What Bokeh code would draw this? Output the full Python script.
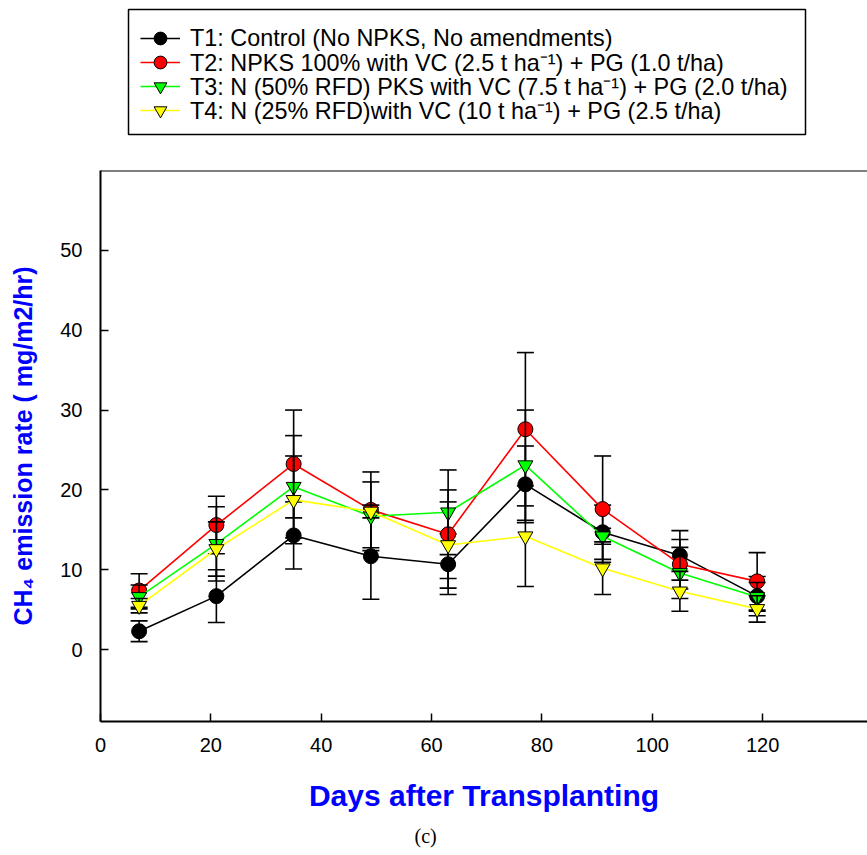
from bokeh.plotting import figure
from bokeh.layouts import column
from bokeh.models import (ColumnDataSource, Legend, LegendItem, FixedTicker,
                          Range1d, Span, Title, BoxAnnotation)
from bokeh.embed import file_html
from bokeh.resources import INLINE

# ---- data ----
days = [7, 21, 35, 49, 63, 77, 91, 105, 119]

t1 = [2.3, 6.7, 14.3, 11.7, 10.7, 20.7, 14.7, 11.8, 6.7]
t1_err = [1.3, 3.3, 4.2, 5.4, 3.8, 4.8, 3.4, 3.1, 2.45]

t2 = [7.4, 15.6, 23.25, 17.5, 14.45, 27.6, 17.6, 10.7, 8.55]
t2_err = [2.1, 3.6, 6.75, 4.75, 5.55, 9.6, 6.65, 3.1, 3.6]

t3 = [6.6, 13.25, 20.4, 16.7, 17.2, 23.1, 14.2, 9.6, 6.6]
t3_err = [1.5, 4.65, 6.4, 4.3, 5.3, 6.9, 1.0, 3.2, 1.8]

t4 = [5.5, 12.6, 18.75, 17.3, 13.1, 14.2, 10.2, 7.3, 5.1]
t4_err = [0.9, 3.4, 5.5, 0.8, 5.4, 6.3, 3.3, 2.5, 1.65]

labels = [
    "T1: Control (No NPKS, No amendments)",
    "T2: NPKS 100% with VC (2.5 t ha\u207b\u00b9) + PG (1.0 t/ha)",
    "T3: N (50% RFD) PKS with VC (7.5 t ha\u207b\u00b9) + PG (2.0 t/ha)",
    "T4: N (25% RFD)with VC (10 t ha\u207b\u00b9) + PG (2.5 t/ha)",
]
x_ticks = [0, 20, 40, 60, 80, 100, 120]
y_ticks = [0, 10, 20, 30, 40, 50]

series = [
    (t1, t1_err, "black", "black", "circle"),
    (t2, t2_err, "#FF0000", "#FF0000", "circle"),
    (t3, t3_err, "#00FF00", "#00FF00", "inverted_triangle"),
    (t4, t4_err, "#FFFF00", "#FFFF00", "inverted_triangle"),
]

FONT = "Liberation Sans"
BLUE = "#0000FF"

# ---------------- main plot ----------------
p = figure(width=867, height=687, output_backend="svg", toolbar_location=None,
           x_range=Range1d(0, 139), y_range=Range1d(-9, 60),
           min_border_left=100, min_border_top=2, min_border_bottom=133,
           min_border_right=0)
p.outline_line_color = None
p.grid.visible = False
p.background_fill_color = "white"
p.border_fill_color = "white"

# ---------------- legend strip (pixel-like ranges) ----------------
STRIP_W, STRIP_H = 767, 168
pl = figure(width=867, height=STRIP_H, output_backend="svg",
            toolbar_location=None, x_axis_type=None, y_axis_type=None,
            x_range=Range1d(0, STRIP_W), y_range=Range1d(0, STRIP_H),
            min_border_left=0, min_border_right=0, min_border_top=0,
            min_border_bottom=0)
pl.outline_line_color = None
pl.grid.visible = False

# legend frame
pl.add_layout(BoxAnnotation(left=28, right=705, bottom=34, top=159,
                            fill_alpha=0, line_color="black", line_width=1.5,
                            line_alpha=1))

row_bottoms = [114, 90, 66, 42]

for (vals, errs, lcol, fcol, mk), lab, rb in zip(series, labels, row_bottoms):
    upper = [v + e for v, e in zip(vals, errs)]
    lower = [v - e for v, e in zip(vals, errs)]
    src = ColumnDataSource(dict(x=days, y=vals, upper=upper, lower=lower))
    p.line("x", "y", source=src, line_color=lcol, line_width=1.6)
    p.segment(x0="x", y0="lower", x1="x", y1="upper", source=src,
              line_color="black", line_width=1.6)
    p.scatter("x", "upper", source=src, marker="dash", size=17,
              line_color="black", line_width=1.6)
    p.scatter("x", "lower", source=src, marker="dash", size=17,
              line_color="black", line_width=1.6)
    p.scatter("x", "y", source=src, marker=mk, size=15,
              fill_color=fcol, line_color="black", line_width=1)
    # key-only renderers (NaN data, nothing drawn in the strip itself)
    key = ColumnDataSource(dict(x=[float("nan")], y=[float("nan")]))
    ln = pl.line("x", "y", source=key, line_color=lcol, line_width=1.6)
    sc = pl.scatter("x", "y", source=key, marker=mk, size=15,
                    fill_color=fcol, line_color="black", line_width=1)
    lg = Legend(items=[LegendItem(label=lab, renderers=[ln, sc])],
                location=(40, rb),
                label_text_font=FONT, label_text_font_size="23.4px",
                label_text_color="black",
                border_line_color=None, background_fill_alpha=0,
                padding=0, spacing=0, margin=0,
                label_height=24, glyph_height=32, glyph_width=40,
                label_standoff=10)
    pl.add_layout(lg)

# top frame line
p.add_layout(Span(location=60, dimension="width", line_color="black",
                  line_width=2))

# x axis
xa = p.xaxis[0]
xa.ticker = FixedTicker(ticks=x_ticks)
xa.major_tick_in = 8
xa.major_tick_out = 0
xa.minor_tick_line_color = None
xa.axis_line_width = 2
xa.major_tick_line_width = 1.5
xa.major_label_text_font = FONT
xa.major_label_text_font_size = "20px"
xa.major_label_text_color = "black"
xa.major_label_standoff = 16
xa.axis_label = "Days after Transplanting"
xa.axis_label_text_font = FONT
xa.axis_label_text_font_style = "bold"
xa.axis_label_text_font_size = "30px"
xa.axis_label_text_color = BLUE
xa.axis_label_standoff = 24

# y axis
ya = p.yaxis[0]
ya.ticker = FixedTicker(ticks=y_ticks)
ya.major_tick_in = 8
ya.major_tick_out = 0
ya.minor_tick_line_color = None
ya.axis_line_width = 2
ya.major_tick_line_width = 1.5
ya.major_label_text_font = FONT
ya.major_label_text_font_size = "20px"
ya.major_label_text_color = "black"
ya.major_label_standoff = 18
ya.axis_label = "CH\u2084 emission rate ( mg/m2/hr)"
ya.axis_label_text_font = FONT
ya.axis_label_text_font_style = "bold"
ya.axis_label_text_font_size = "25px"
ya.axis_label_text_color = BLUE
ya.axis_label_standoff = 20

cap = Title(text="(c)", align="left", offset=314, text_font="Liberation Serif",
            text_font_size="20px", text_font_style="normal",
            text_color="black", standoff=17)
p.add_layout(cap, "below")

layout = column(pl, p, spacing=0)
open("out.html", "w").write(file_html(layout, INLINE))
